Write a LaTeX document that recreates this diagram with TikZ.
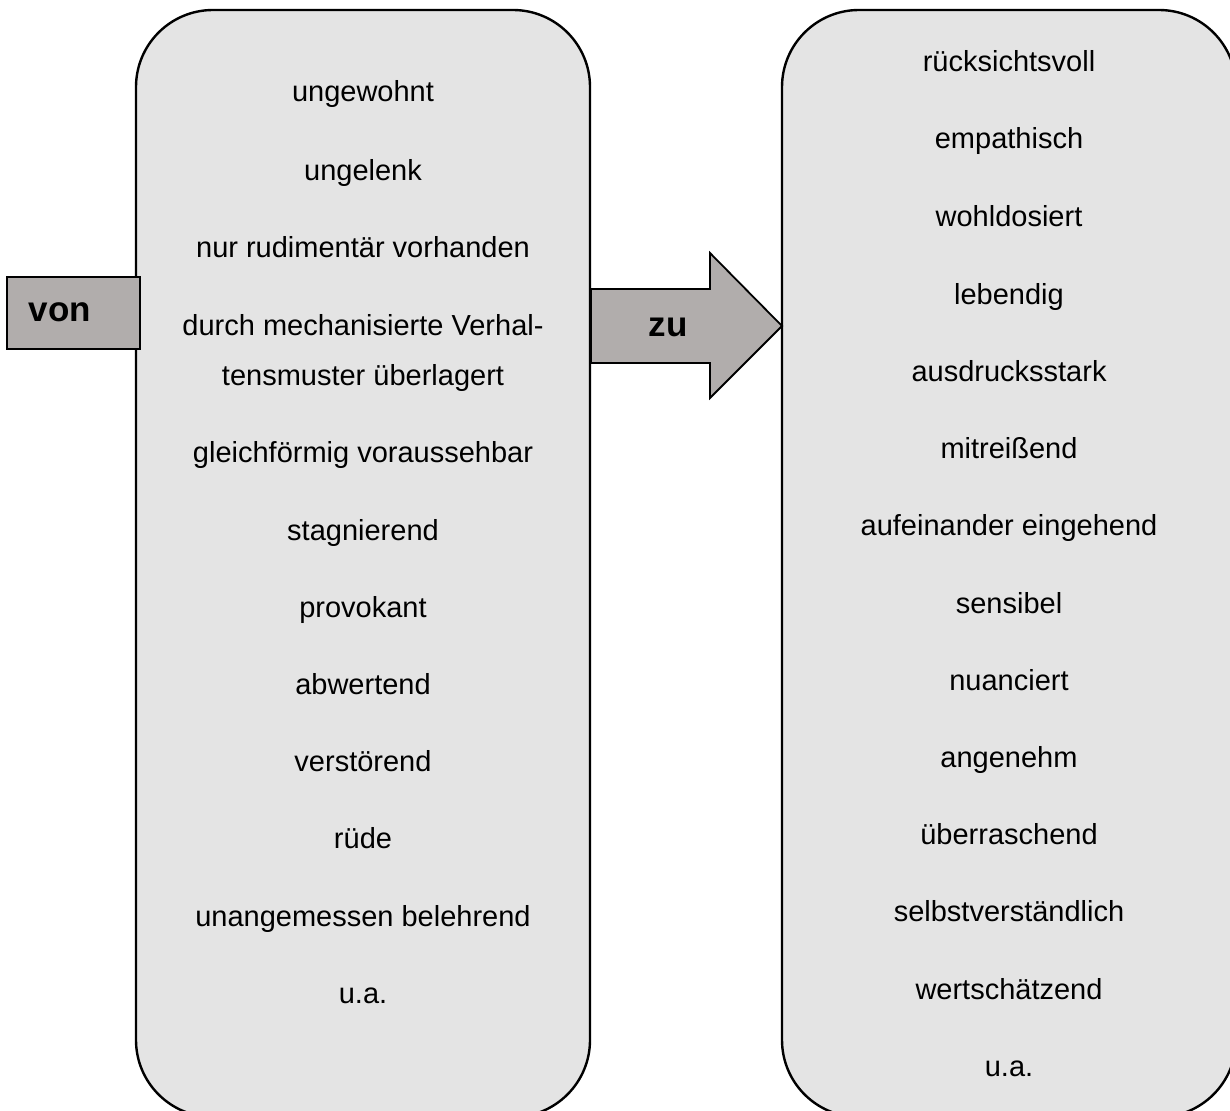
\documentclass[tikz,border=0pt]{standalone}
\usepackage{fontspec}
\setmainfont{Liberation Sans}
\definecolor{panelgray}{HTML}{E4E4E4}
\definecolor{taggray}{HTML}{B1ADAC}
\begin{document}
\begin{tikzpicture}[x=1pt,y=-1pt,
  panel/.style={draw=black,line width=2.4pt,fill=panelgray,rounded corners=77pt},
  word/.style={anchor=base,inner sep=0pt,font=\fontsize{29}{35}\selectfont},
  tagtext/.style={anchor=base,inner sep=0pt,font=\fontsize{35}{42}\selectfont\bfseries},
  tagshape/.style={draw=black,line width=1.8pt,fill=taggray,line join=miter}]
\useasboundingbox (0,0) rectangle (1230,1110);
\clip (0,0) rectangle (1230,1110);
% panels
\draw[panel] (136,10) rectangle (590,1117);
\draw[panel] (782,10) rectangle (1236,1117);
% arrow
\draw[tagshape] (591,289) -- (710,289) -- (710,253) -- (782,326) -- (710,398) -- (710,363) -- (591,363) -- cycle;
\node[tagtext] (zu) at (668,336) {zu};
% von box
\draw[tagshape] (7,277) rectangle (140,349);
\node[tagtext] (von) at (60,321) {von};
% left texts
\node[word] (l1) at (363,102) {ungewohnt};
\node[word] (l2) at (363,180) {ungelenk};
\node[word] (l3) at (363,257) {nur rudimentär vorhanden};
\node[word] (l4) at (363,335) {durch mechanisierte Verhal-};
\node[word] (l5) at (363,385) {tensmuster überlagert};
\node[word] (l6) at (363,462) {gleichförmig voraussehbar};
\node[word] (l7) at (363,540) {stagnierend};
\node[word] (l8) at (363,617) {provokant};
\node[word] (l9) at (363,694) {abwertend};
\node[word] (l10) at (363,771) {verstörend};
\node[word] (l11) at (363,848) {rüde};
\node[word] (l12) at (363,926) {unangemessen belehrend};
\node[word] (l13) at (363,1003) {u.a.};
% right texts
\node[word] (r1) at (1009,72) {rücksichtsvoll};
\node[word] (r2) at (1009,149) {empathisch};
\node[word] (r3) at (1009,226) {wohldosiert};
\node[word] (r4) at (1009,304) {lebendig};
\node[word] (r5) at (1009,381) {ausdrucksstark};
\node[word] (r6) at (1009,458) {mitreißend};
\node[word] (r7) at (1009,535) {aufeinander eingehend};
\node[word] (r8) at (1009,613) {sensibel};
\node[word] (r9) at (1009,690) {nuanciert};
\node[word] (r10) at (1009,767) {angenehm};
\node[word] (r11) at (1009,844) {überraschend};
\node[word] (r12) at (1009,921) {selbstverständlich};
\node[word] (r13) at (1009,999) {wertschätzend};
\node[word] (r14) at (1009,1076) {u.a.};
\end{tikzpicture}
\end{document}
